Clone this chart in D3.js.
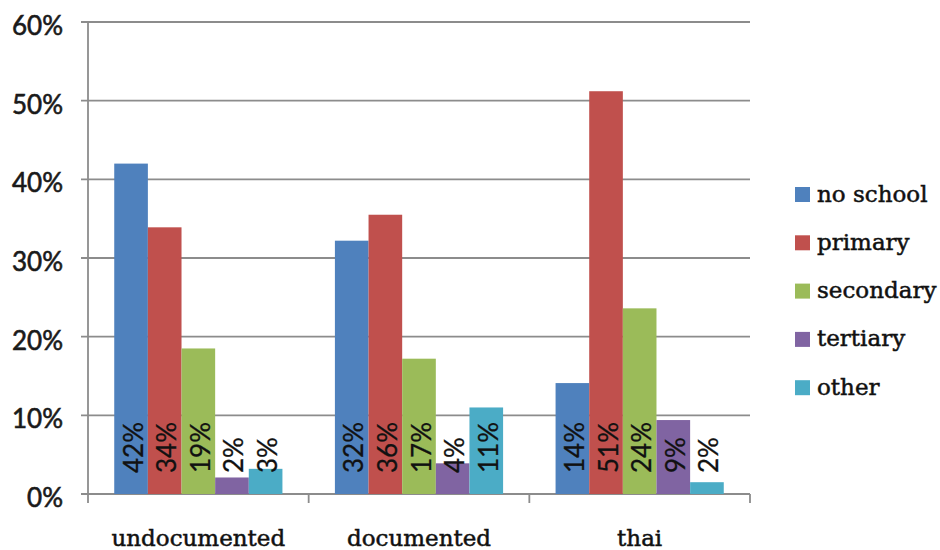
<!DOCTYPE html>
<html>
<head>
<meta charset="utf-8">
<script src="https://cdn.jsdelivr.net/npm/d3@7"></script>
<style>
  html, body { margin: 0; padding: 0; background: #fff; }
  svg { display: block; }
</style>
</head>
<body>
<svg id="chart" width="940" height="550"></svg>
<script>
const categories = ["undocumented", "documented", "thai"];
const seriesNames = ["no school", "primary", "secondary", "tertiary", "other"];
const seriesColors = ["#4F81BD", "#C0504D", "#9BBB59", "#8064A2", "#4BACC6"];
// values (percent) per series, in category order
const noSchool  = [42.0, 32.2, 14.1];
const primary   = [33.9, 35.5, 51.2];
const secondary = [18.5, 17.2, 23.6];
const tertiary  = [2.1, 3.9, 9.4];
const other     = [3.2, 11.0, 1.5];
// bar labels as printed
const noSchoolLabels  = ["42%", "32%", "14%"];
const primaryLabels   = ["34%", "36%", "51%"];
const secondaryLabels = ["19%", "17%", "24%"];
const tertiaryLabels  = ["2%", "4%", "9%"];
const otherLabels     = ["3%", "11%", "2%"];
const yTicks = [0, 10, 20, 30, 40, 50, 60];
const yTickLabels = ["0%", "10%", "20%", "30%", "40%", "50%", "60%"];

(function () {
const seriesValues = [noSchool, primary, secondary, tertiary, other];
const seriesLabels = [noSchoolLabels, primaryLabels, secondaryLabels, tertiaryLabels, otherLabels];

const svg = d3.select("#chart");
const mLeft = 88, mRight = 750, mTop = 22, mBottom = 494;

const x0 = d3.scaleBand().domain(categories).range([mLeft, mRight]).paddingInner(0).paddingOuter(0);
const x1 = d3.scaleBand().domain(seriesNames).range([0, x0.bandwidth()]).paddingInner(0).paddingOuter(0.78);
const y = d3.scaleLinear().domain([0, 60]).range([mBottom, mTop]);

const gridColor = "#8c8c8c";

// gridlines
svg.append("g").selectAll("line").data(yTicks).join("line")
  .attr("x1", mLeft - 7).attr("x2", mRight)
  .attr("y1", d => y(d)).attr("y2", d => y(d))
  .attr("stroke", gridColor).attr("stroke-width", 1.8);

// y axis line
svg.append("line").attr("x1", mLeft).attr("x2", mLeft).attr("y1", mTop).attr("y2", mBottom)
  .attr("stroke", gridColor).attr("stroke-width", 1.8);

// category tick marks
const catTicks = categories.map(c => x0(c)).concat([mRight]);
svg.append("g").selectAll("line").data(catTicks).join("line")
  .attr("x1", d => d).attr("x2", d => d)
  .attr("y1", mBottom).attr("y2", mBottom + 9)
  .attr("stroke", gridColor).attr("stroke-width", 1.8);

// y tick labels
svg.append("g").selectAll("text").data(yTicks).join("text")
  .attr("x", 63).attr("y", d => y(d) + 13)
  .attr("text-anchor", "end")
  .attr("font-family", "Lato, 'Open Sans', sans-serif")
  .attr("font-size", 26)
  .attr("fill", "#1a1a1a")
  .attr("stroke", "#1a1a1a").attr("stroke-width", 0.6)
  .text((d, i) => yTickLabels[i]);

// bars
const groups = svg.append("g").selectAll("g").data(categories).join("g")
  .attr("transform", c => `translate(${x0(c)},0)`);

groups.each(function(c, ci) {
  const g = d3.select(this);
  seriesNames.forEach((s, si) => {
    const v = seriesValues[si][ci];
    g.append("rect")
      .attr("x", x1(s)).attr("width", x1.bandwidth())
      .attr("y", y(v)).attr("height", y(0) - y(v))
      .attr("fill", seriesColors[si]);
  });
  seriesNames.forEach((s, si) => {
    const cx = x1(s) + x1.bandwidth() / 2 + 11.5;
    const cy = y(0) - 21;
    g.append("text")
      .attr("transform", `translate(${cx},${cy}) rotate(-90)`)
      .attr("text-anchor", "start")
      .attr("font-family", "Lato, 'Open Sans', sans-serif")
      .attr("font-size", 26)
      .attr("fill", "#111")
      .attr("stroke", "#111").attr("stroke-width", 0.3)
      .text(seriesLabels[si][ci]);
  });
});

// category labels
svg.append("g").selectAll("text").data(categories).join("text")
  .attr("x", c => x0(c) + x0.bandwidth() / 2)
  .attr("y", 546)
  .attr("text-anchor", "middle")
  .attr("font-family", "'DejaVu Serif', serif")
  .attr("font-size", 23)
  .attr("fill", "#111")
  .attr("stroke", "#111").attr("stroke-width", 0.5)
  .text(c => c);

// legend
const legend = svg.append("g").selectAll("g").data(seriesNames).join("g")
  .attr("transform", (d, i) => `translate(795,${194.5 + i * 48.3})`);
legend.append("rect").attr("x", 0).attr("y", -7.5).attr("width", 15).attr("height", 15)
  .attr("fill", (d, i) => seriesColors[i]);
legend.append("text").attr("x", 22).attr("y", 7)
  .attr("font-family", "'DejaVu Serif', serif")
  .attr("font-size", 23)
  .attr("fill", "#111")
  .attr("stroke", "#111").attr("stroke-width", 0.5)
  .text(d => d);
})();
</script>
</body>
</html>
